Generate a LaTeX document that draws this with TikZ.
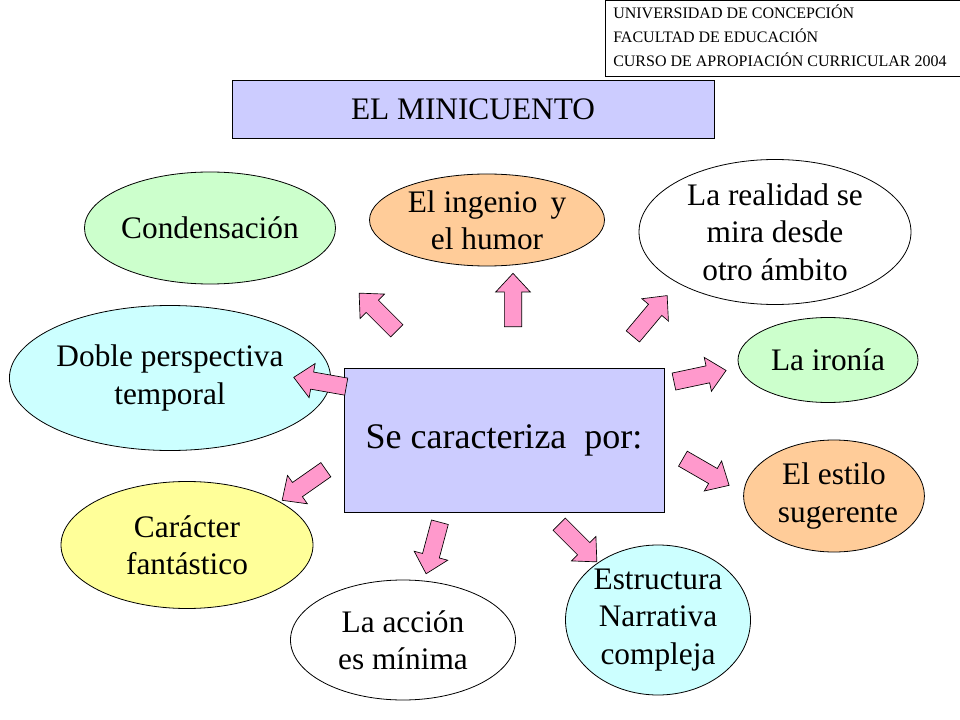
\documentclass[tikz,border=0pt]{standalone}
\usepackage{fontspec}
\setmainfont{Liberation Serif}
\usetikzlibrary{shapes.geometric}
\definecolor{cgreen}{RGB}{204,255,204}
\definecolor{corange}{RGB}{255,204,153}
\definecolor{ccyan}{RGB}{204,255,255}
\definecolor{cyellow}{RGB}{255,255,153}
\definecolor{clav}{RGB}{204,204,255}
\definecolor{cpink}{RGB}{255,153,204}
\tikzset{
 ell/.style={ellipse,draw=black,line width=0.6pt,inner sep=0pt,align=center,font=\fontsize{23.5}{28}\selectfont},
 barrow/.style={draw=black,fill=cpink,line width=0.5pt,line join=miter}
}
\newcommand\blockarrow[3]{\draw[barrow,shift={(#1,#2)},rotate=#3]
 (-20pt,-6.5pt)--(6pt,-6.5pt)--(6pt,-13pt)--(20pt,0pt)--(6pt,13pt)--(6pt,6.5pt)--(-20pt,6.5pt)--cycle;}
\begin{document}
\begin{tikzpicture}[x=0.75pt,y=-0.75pt]
\useasboundingbox (0,0) rectangle (960,720);
\node[draw,fill=clav,minimum width=482*0.75pt,minimum height=58*0.75pt,font=\fontsize{23.5}{26}\selectfont] (title) at (473,109) {EL MINICUENTO};
\node[draw,fill=white,minimum width=355*0.75pt,minimum height=76*0.75pt,anchor=north west,align=left,inner sep=0pt] (uni) at (605,0) {};
\node[anchor=west,inner sep=0pt,font=\fontsize{12}{13}\selectfont] (u1) at (613,12) {UNIVERSIDAD DE CONCEPCIÓN};
\node[anchor=west,inner sep=0pt,font=\fontsize{12}{13}\selectfont] (u2) at (613,36) {FACULTAD DE EDUCACIÓN};
\node[anchor=west,inner sep=0pt,font=\fontsize{12}{13}\selectfont] (u3) at (613,60) {CURSO DE APROPIACIÓN CURRICULAR 2004};
\node[draw,fill=clav,minimum width=320*0.75pt,minimum height=144*0.75pt,font=\fontsize{27}{30}\selectfont] (main) at (504,440) {Se caracteriza\ \ por:};
\node[ell,fill=cgreen,minimum width=200*0.75pt,minimum height=112*0.75pt] (e1) at (210,228) {Condensación};
\node[ell,fill=corange,minimum width=235*0.75pt,minimum height=92*0.75pt] (e2) at (487,220) {El ingenio\, y\\el humor};
\node[ell,fill=white,minimum width=272*0.75pt,minimum height=145*0.75pt] (e3) at (775,232) {La realidad se\\mira desde\\otro ámbito};
\node[ell,fill=ccyan,minimum width=258*0.75pt,minimum height=145*0.75pt] (e4) at (170,378) {Doble perspectiva\\temporal};
\node[ell,fill=cgreen,minimum width=180*0.75pt,minimum height=85*0.75pt] (e5) at (828,360) {La ironía};
\node[ell,fill=corange,minimum width=165*0.75pt,minimum height=112*0.75pt] (e6) at (834,496) {El estilo\\\ sugerente};
\node[ell,fill=cyellow,minimum width=252*0.75pt,minimum height=127*0.75pt] (e7) at (187,545) {Carácter\\fantástico};
\node[ell,fill=white,minimum width=225*0.75pt,minimum height=120*0.75pt] (e8) at (403,640) {La acción\\es mínima};
\node[ell,fill=ccyan,minimum width=185*0.75pt,minimum height=150*0.75pt] (e9) at (658,620) {Estructura\\Narrativa\\compleja};
\blockarrow{378}{312}{135}
\blockarrow{513}{300}{90}
\blockarrow{650}{316}{50}
\blockarrow{320}{382}{170}
\blockarrow{700}{376}{12}
\blockarrow{304}{485}{215}
\blockarrow{433}{548}{255}
\blockarrow{578}{543}{-45}
\blockarrow{706}{472}{-30}
\end{tikzpicture}
\end{document}
